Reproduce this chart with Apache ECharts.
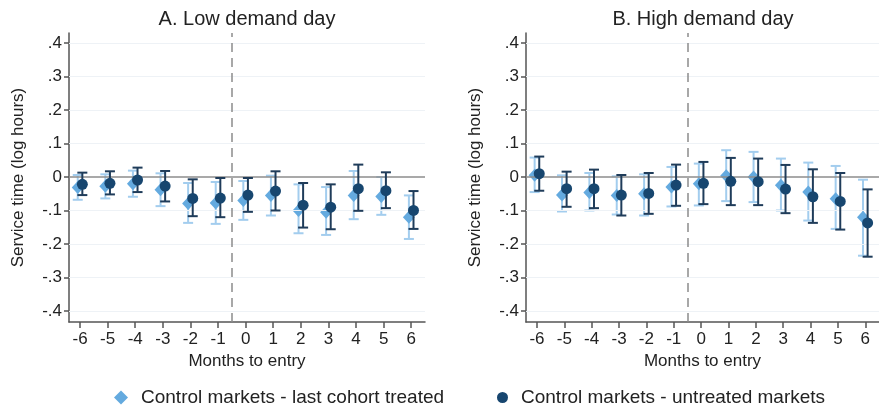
<!DOCTYPE html>
<html>
<head>
<meta charset="utf-8">
<script src="https://cdn.jsdelivr.net/npm/echarts@6/dist/echarts.min.js"></script>
<style>
html,body{margin:0;padding:0;background:#fff;}
#c{width:879px;height:407px;}
</style>
</head>
<body>
<div id="c"></div>
<script>
// ---- data ----
const months = [-6,-5,-4,-3,-2,-1,0,1,2,3,4,5,6];
const yTicks = [-0.4,-0.3,-0.2,-0.1,0,0.1,0.2,0.3,0.4];
const panelTitles = ['A. Low demand day','B. High demand day'];
const seriesNames = ['Control markets - last cohort treated','Control markets - untreated markets'];

// Panel A (low demand day)
const lightA_est = [-0.031,-0.028,-0.020,-0.038,-0.079,-0.078,-0.070,-0.055,-0.100,-0.105,-0.055,-0.058,-0.120];
const lightA_lo  = [-0.068,-0.064,-0.059,-0.087,-0.137,-0.140,-0.128,-0.115,-0.168,-0.173,-0.126,-0.113,-0.185];
const lightA_hi  = [0.006,0.008,0.019,0.011,-0.018,-0.015,-0.012,0.004,-0.022,-0.030,0.018,0.000,-0.055];
const darkA_est  = [-0.022,-0.019,-0.009,-0.027,-0.064,-0.063,-0.054,-0.042,-0.084,-0.090,-0.035,-0.041,-0.100];
const darkA_lo   = [-0.054,-0.052,-0.045,-0.073,-0.117,-0.120,-0.104,-0.100,-0.151,-0.156,-0.101,-0.093,-0.155];
const darkA_hi   = [0.013,0.017,0.028,0.018,-0.007,-0.003,-0.003,0.017,-0.018,-0.022,0.037,0.014,-0.042];

// Panel B (high demand day)
const lightB_est = [0.005,-0.054,-0.046,-0.055,-0.050,-0.030,-0.020,0.004,0.000,-0.025,-0.045,-0.065,-0.120];
const lightB_lo  = [-0.045,-0.103,-0.100,-0.112,-0.115,-0.088,-0.085,-0.072,-0.075,-0.100,-0.130,-0.155,-0.235];
const lightB_hi  = [0.058,0.005,0.012,0.002,0.008,0.030,0.040,0.080,0.075,0.055,0.043,0.033,-0.008];
const darkB_est  = [0.010,-0.035,-0.035,-0.054,-0.049,-0.024,-0.019,-0.013,-0.014,-0.036,-0.059,-0.073,-0.137];
const darkB_lo   = [-0.041,-0.089,-0.093,-0.115,-0.110,-0.086,-0.081,-0.084,-0.084,-0.108,-0.137,-0.157,-0.238];
const darkB_hi   = [0.061,0.016,0.022,0.006,0.012,0.037,0.045,0.057,0.055,0.036,0.023,0.012,-0.037];

const entryLine = -0.5;

// ---- styling ----
const FONT = "'Liberation Sans', Arial, sans-serif";
const LIGHT_PT = '#64aadf';
const LIGHT_BAR = '#a3cdee';
const DARK_PT = '#17466f';
const DARK_BAR = '#1f3c5a';
const AXIS = '#555';
const PX_SHIFT = 2.3;

function fmtY(v){
  if (Math.abs(v) < 1e-9) return '0';
  let s = v.toFixed(1);
  return s.replace('0.', '.');
}

const grids = [
  {left:69, top:33, width:356, height:289},
  {left:526, top:33, width:355, height:289}
];

function makeX(i){
  return {
    type:'value', gridIndex:i, min:-6.4, max:6.5,
    name:'Months to entry', nameLocation:'middle', nameGap:29,
    nameTextStyle:{fontFamily:FONT, fontSize:17, color:'#222'},
    axisLine:{show:true, onZero:false, lineStyle:{color:AXIS, width:1.5}},
    axisTick:{show:true, length:6, lineStyle:{color:AXIS, width:1.5}, customValues:months},
    axisLabel:{fontFamily:FONT, fontSize:17, color:'#222', margin:9, customValues:months, formatter:v=>String(v)},
    splitLine:{show:false}
  };
}
function makeY(i){
  return {
    type:'value', gridIndex:i, min:-0.433, max:0.43,
    name:'Service time (log hours)', nameLocation:'middle', nameGap:42,
    nameTextStyle:{fontFamily:FONT, fontSize:17, color:'#222'},
    axisLine:{show:true, onZero:false, lineStyle:{color:AXIS, width:1.5}},
    axisTick:{show:true, length:5, lineStyle:{color:AXIS, width:1.5}, customValues:yTicks},
    axisLabel:{fontFamily:FONT, fontSize:17, color:'#222', margin:7, customValues:yTicks, formatter:fmtY},
    splitLine:{show:false}
  };
}

function errBars(i, name, lo, hi, color, shift, z){
  return {
    type:'custom', name:name, xAxisIndex:i, yAxisIndex:i, z:z,
    data: months.map((m,k)=>[m, lo[k], hi[k]]),
    renderItem:function(params, api){
      const x = api.value(0);
      const p1 = api.coord([x, api.value(1)]);
      const p2 = api.coord([x, api.value(2)]);
      const cx = p1[0] + shift;
      const hw = 5;
      const st = {stroke:color, lineWidth:2};
      return {type:'group', children:[
        {type:'line', shape:{x1:cx, y1:p1[1], x2:cx, y2:p2[1]}, style:st},
        {type:'line', shape:{x1:cx-hw, y1:p1[1], x2:cx+hw, y2:p1[1]}, style:st},
        {type:'line', shape:{x1:cx-hw, y1:p2[1], x2:cx+hw, y2:p2[1]}, style:st}
      ]};
    },
    silent:true
  };
}

function refLines(i){
  return {
    type:'line', xAxisIndex:i, yAxisIndex:i, data:[], silent:true, z:1,
    markLine:{
      silent:true, symbol:'none', animation:false,
      label:{show:false},
      data:[
        ...yTicks.filter(v=>Math.abs(v)>1e-9).map(v=>({yAxis:v, lineStyle:{color:'#eef2f6', width:1, type:'solid'}})),
        {yAxis:0, lineStyle:{color:'#8c8c8c', width:1.5, type:'solid'}},
        {xAxis:entryLine, lineStyle:{color:'#8c8c8c', width:1.5, type:[9,6]}}
      ]
    }
  };
}

const panels = [
  {le:lightA_est, ll:lightA_lo, lh:lightA_hi, de:darkA_est, dl:darkA_lo, dh:darkA_hi},
  {le:lightB_est, ll:lightB_lo, lh:lightB_hi, de:darkB_est, dl:darkB_lo, dh:darkB_hi}
];

const series = [];
panels.forEach((p,i)=>{
  series.push(refLines(i));
  series.push(errBars(i, seriesNames[0], p.ll, p.lh, LIGHT_BAR, -PX_SHIFT, 3));
  series.push({
    type:'scatter', name:seriesNames[0], xAxisIndex:i, yAxisIndex:i, z:4,
    symbol:'diamond', symbolSize:[12,13], symbolOffset:[-PX_SHIFT,0],
    itemStyle:{color:LIGHT_PT, opacity:1},
    data: months.map((m,k)=>[m, p.le[k]]), silent:true
  });
  series.push(errBars(i, seriesNames[1], p.dl, p.dh, DARK_BAR, PX_SHIFT, 5));
  series.push({
    type:'scatter', name:seriesNames[1], xAxisIndex:i, yAxisIndex:i, z:6,
    symbol:'circle', symbolSize:11, symbolOffset:[PX_SHIFT,0],
    itemStyle:{color:DARK_PT, opacity:1},
    data: months.map((m,k)=>[m, p.de[k]]), silent:true
  });
});

const chart = echarts.init(document.getElementById('c'), null, {renderer:'canvas'});
chart.setOption({
  animation:false,
  backgroundColor:'#fff',
  title:[
    {text:panelTitles[0], left:247, top:9, textAlign:'center', padding:0,
     textStyle:{fontFamily:FONT, fontSize:20, fontWeight:'normal', color:'#222'}},
    {text:panelTitles[1], left:703, top:9, textAlign:'center', padding:0,
     textStyle:{fontFamily:FONT, fontSize:20, fontWeight:'normal', color:'#222'}}
  ],
  grid:grids,
  xAxis:[makeX(0), makeX(1)],
  yAxis:[makeY(0), makeY(1)],
  legend:[
    {data:[{name:seriesNames[0], icon:'diamond', itemStyle:{color:LIGHT_PT}}], left:114, top:388, padding:0,
     itemWidth:14, itemHeight:14,
     textStyle:{fontFamily:FONT, fontSize:19, color:'#222', padding:[0,0,0,8]}},
    {data:[{name:seriesNames[1], icon:'circle', itemStyle:{color:DARK_PT}}], left:497, top:388, padding:0,
     itemWidth:11, itemHeight:11,
     textStyle:{fontFamily:FONT, fontSize:19, color:'#222', padding:[0,0,0,8]}}
  ],
  series:series
});
</script>
</body>
</html>
